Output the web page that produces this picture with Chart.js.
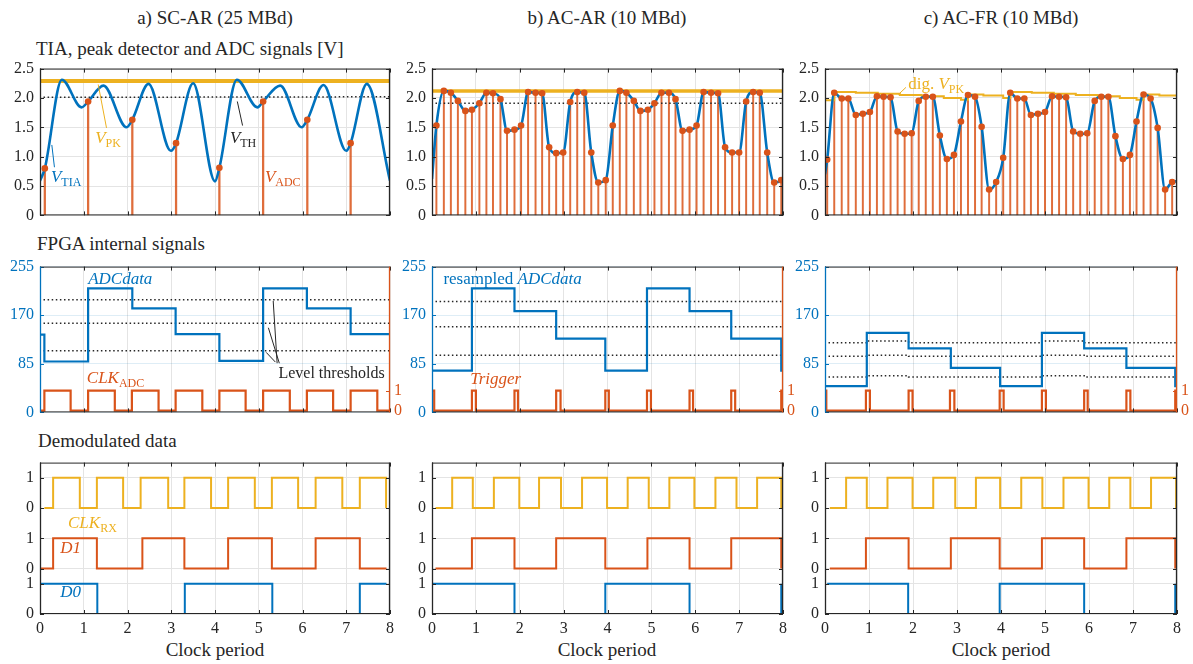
<!DOCTYPE html>
<html>
<head>
<meta charset="utf-8">
<script src="https://cdn.jsdelivr.net/npm/chart.js@4.4.1/dist/chart.umd.min.js"></script>
<style>
    body { margin: 0; width: 1193px; height: 664px; position: relative; overflow: hidden; background: #fff;
           font-family: "Liberation Serif", "Times New Roman", serif; color: #262626; }
    canvas { position: absolute; }
    .t { position: absolute; white-space: nowrap; line-height: 1; }
    .c { text-align: center; }
</style>
</head>
<body>
<div class="t c" style="left:65px;width:300px;top:8px;font-size:19px">a) SC-AR (25 MBd)</div>
<div class="t c" style="left:457px;width:300px;top:8px;font-size:19px">b) AC-AR (10 MBd)</div>
<div class="t c" style="left:851px;width:300px;top:8px;font-size:19px">c) AC-FR (10 MBd)</div>
<div class="t" style="left:36px;top:39px;font-size:19px">TIA, peak detector and ADC signals [V]</div>
<div class="t" style="left:37px;top:234px;font-size:19px">FPGA internal signals</div>
<div class="t" style="left:38px;top:431px;font-size:19px">Demodulated data</div>
<div class="t c" style="left:115px;width:200px;top:640px;font-size:19px">Clock period</div>
<div class="t c" style="left:507px;width:200px;top:640px;font-size:19px">Clock period</div>
<div class="t c" style="left:901px;width:200px;top:640px;font-size:19px">Clock period</div>

<script>
// x is always in clock periods (0..8)

// ---- row 1: TIA output, peak detector, ADC samples [V]
const tiaA = [[0, 0.59], [0.11, 0.80], [0.50, 2.31], [0.95, 1.84], [1.10, 1.94], [1.45, 2.21], [1.98, 1.50], [2.11, 1.63],
    [2.48, 2.24], [2.99, 1.10], [3.11, 1.23], [3.50, 2.25], [4.00, 0.58], [4.10, 0.81], [4.50, 2.31], [4.97, 1.84],
    [5.10, 1.94], [5.49, 2.21], [5.98, 1.50], [6.11, 1.63], [6.48, 2.22], [7.00, 1.10], [7.10, 1.23], [7.47, 2.24], [8, 0.59]];
const adcA = [[0.11, 0.80], [1.10, 1.94], [2.11, 1.63], [3.11, 1.23], [4.10, 0.81], [5.10, 1.94], [6.11, 1.63], [7.10, 1.23]];
const vpkA = [[0, 2.29], [8, 2.29]];
const vthA = [[0.08, 2.01], [8, 2.02]];

const adcB = [[0.10, 1.53], [0.27, 2.12], [0.43, 2.09], [0.59, 1.95], [0.76, 1.78], [0.91, 1.80], [1.08, 1.91], [1.24, 2.09],
    [1.39, 2.08], [1.56, 1.98], [1.71, 1.44], [1.88, 1.46], [2.03, 1.53], [2.19, 2.10], [2.36, 2.09], [2.51, 2.08],
    [2.67, 1.16], [2.83, 1.06], [2.99, 1.07], [3.15, 1.93], [3.31, 2.10], [3.47, 2.09], [3.63, 1.07], [3.79, 0.56],
    [3.96, 0.60], [4.12, 1.53], [4.28, 2.12], [4.43, 2.09], [4.60, 1.95], [4.75, 1.78], [4.92, 1.80], [5.07, 1.91],
    [5.23, 2.09], [5.40, 2.09], [5.55, 1.98], [5.71, 1.44], [5.87, 1.46], [6.03, 1.53], [6.19, 2.10], [6.36, 2.09],
    [6.52, 2.08], [6.68, 1.16], [6.84, 1.07], [7.00, 1.07], [7.16, 1.94], [7.32, 2.10], [7.47, 2.09], [7.64, 1.07],
    [7.80, 0.56], [7.96, 0.60]];
const tiaBEnds = [[0, 0.62], [8, 0.64]];
const vpkB = [[0, 2.12], [8, 2.12]];
const vthB = [[0.08, 1.91], [8, 1.91]];

const adcC = [[0.05, 0.95], [0.21, 2.09], [0.38, 1.99], [0.53, 1.99], [0.70, 1.71], [0.86, 1.73], [1.02, 1.76], [1.18, 2.03],
    [1.33, 2.02], [1.49, 2.01], [1.65, 1.43], [1.81, 1.39], [1.97, 1.40], [2.13, 1.95], [2.29, 2.02], [2.45, 2.02],
    [2.61, 1.36], [2.77, 0.96], [2.93, 1.03], [3.09, 1.60], [3.25, 2.05], [3.41, 2.02], [3.56, 1.51], [3.73, 0.44],
    [3.89, 0.57], [4.05, 0.98], [4.21, 2.09], [4.37, 1.99], [4.53, 1.99], [4.68, 1.71], [4.84, 1.73], [5.00, 1.76],
    [5.16, 2.03], [5.32, 2.02], [5.48, 2.01], [5.64, 1.43], [5.80, 1.39], [5.96, 1.40], [6.13, 1.95], [6.28, 2.02],
    [6.44, 2.02], [6.60, 1.35], [6.77, 0.96], [6.93, 1.03], [7.08, 1.60], [7.24, 2.06], [7.40, 1.99], [7.56, 1.49],
    [7.73, 0.44], [7.89, 0.57]];
const tiaCEnds = [[0, 0.70], [8, 0.58]];
const digPkC = [[0, 1.96], [0.21, 2.10], [0.70, 2.09], [1.20, 2.07], [1.70, 2.05], [2.20, 2.03], [2.70, 2.00], [3.09, 1.97],
    [3.25, 2.06], [3.60, 2.04], [4.05, 2.00], [4.21, 2.10], [4.70, 2.09], [5.20, 2.07], [5.70, 2.05], [6.20, 2.03],
    [6.70, 2.00], [7.08, 1.97], [7.24, 2.06], [7.60, 2.04], [8, 2.01]];

// ---- row 2: FPGA signals, ADC code (0..255) and clock / trigger (0/1)
const codeA = [[0, 136], [0.10, 89], [1.10, 217], [2.11, 182], [3.10, 137], [4.10, 90], [5.10, 217], [6.10, 182], [7.10, 137], [8, 137]];
const clkAdcA = [[0, 0], [0.10, 1], [0.70, 0], [1.10, 1], [1.71, 0], [2.10, 1], [2.71, 0], [3.10, 1], [3.71, 0],
    [4.10, 1], [4.70, 0], [5.10, 1], [5.71, 0], [6.10, 1], [6.70, 0], [7.10, 1], [7.71, 0], [8, 0]];
const levelsA = [197, 156, 108];

const codeB = [[0, 73], [0.91, 217], [1.88, 177], [2.83, 129], [3.95, 73], [4.90, 217], [5.87, 177], [6.82, 129], [7.96, 73], [8, 73]];
const trigB = [[0, 1], [0.05, 0], [0.91, 1], [1.00, 0], [1.88, 1], [1.96, 0], [2.83, 1], [2.93, 0], [3.95, 1], [4.03, 0],
    [4.90, 1], [4.99, 0], [5.87, 1], [5.95, 0], [6.82, 1], [6.91, 0], [7.96, 1], [8, 1]];
const levelsB = [194, 150, 100];

const codeC = [[0, 46], [0.95, 139], [1.90, 112], [2.86, 78], [3.98, 46], [4.93, 139], [5.89, 112], [6.85, 78], [7.96, 46], [8, 46]];
const trigC = [[0, 1], [0.03, 0], [0.93, 1], [1.02, 0], [1.90, 1], [1.99, 0], [2.84, 1], [2.94, 0], [3.97, 1], [4.06, 0],
    [4.93, 1], [5.02, 0], [5.89, 1], [5.97, 0], [6.85, 1], [6.94, 0], [7.96, 1], [8, 1]];
const levelHiC = [[0.08, 122], [0.95, 125], [1.90, 122], [4.93, 125], [5.89, 122], [8, 122]];
const levelMidC = [[0.08, 98], [0.95, 100], [1.90, 98], [4.93, 100], [5.89, 98], [8, 98]];
const levelLoC = [[0.08, 62], [0.95, 64], [1.90, 62], [4.93, 64], [5.89, 62], [8, 62]];

// ---- row 3: demodulated bits
const clkRxA = [[0.10, 0], [0.30, 1], [0.91, 0], [1.30, 1], [1.90, 0], [2.30, 1], [2.93, 0], [3.30, 1], [3.91, 0],
    [4.30, 1], [4.91, 0], [5.30, 1], [5.90, 0], [6.30, 1], [6.91, 0], [7.31, 1], [7.91, 0]];
const d1A = [[0, 0], [0.30, 1], [1.30, 0], [2.34, 1], [3.30, 0], [4.30, 1], [5.30, 0], [6.30, 1], [7.31, 0], [7.92, 0]];
const d0A = [[0, 1], [1.31, 0], [3.31, 1], [5.31, 0], [7.31, 1], [7.92, 1]];

const clkRxB = [[0.08, 0], [0.46, 1], [0.93, 0], [1.41, 1], [1.99, 0], [2.44, 1], [2.94, 0], [3.42, 1], [3.99, 0],
    [4.46, 1], [4.94, 0], [5.41, 1], [5.98, 0], [6.46, 1], [6.94, 0], [7.41, 1], [7.96, 0]];
const d1B = [[0.08, 0], [0.91, 1], [1.88, 0], [2.83, 1], [3.95, 0], [4.91, 1], [5.87, 0], [6.82, 1], [7.96, 0]];
const d0B = [[0.02, 1], [1.88, 0], [3.95, 1], [5.87, 0], [7.96, 1]];

const clkRxC = [[0.11, 0], [0.48, 1], [0.95, 0], [1.42, 1], [1.99, 0], [2.46, 1], [2.96, 0], [3.43, 1], [3.98, 0],
    [4.46, 1], [4.94, 0], [5.42, 1], [5.99, 0], [6.46, 1], [6.94, 0], [7.41, 1], [7.98, 0]];
const d1C = [[0.11, 0], [0.93, 1], [1.90, 0], [2.86, 1], [3.97, 0], [4.93, 1], [5.89, 0], [6.85, 1], [7.96, 0]];
const d0C = [[0.05, 1], [1.89, 0], [3.97, 1], [5.89, 0], [7.96, 1]];

const demodTicks = [0, 1, 1.5, 2.5, 3.5, 4.5];
const demodTickText = ["0", "1", "0", "1", "0", "1"];

// ---------------------------------------------------------------------------
const BLUE = "#0072BD", ORANGE = "#D95319", YELLOW = "#EDB120", INK = "#262626", GRID = "#e4e4e4";
const FONT = '"Liberation Serif", "Times New Roman", serif';
const D1_BASE = 1.5, CLK_BASE = 3.5; // stacked traces in the demod panel

const pts = (a, dy = 0) => a.map(([x, y]) => ({ x, y: y + dy }));

function trace(data, color, width, extra = {}) {
    return { data, borderColor: color, backgroundColor: color, borderWidth: width, pointRadius: 0, fill: false, ...extra };
}

// box + inward ticks, MATLAB style
const framePlugin = {
    id: "frame",
    afterDraw(chart, args, opts) {
        const { ctx, chartArea: a, scales } = chart;
        const seg = (x1, y1, x2, y2) => { ctx.beginPath(); ctx.moveTo(x1, y1); ctx.lineTo(x2, y2); ctx.stroke(); };
        ctx.save();
        ctx.lineWidth = 1;
        ctx.strokeStyle = INK;
        scales.x.ticks.forEach(t => {
            const px = Math.round(scales.x.getPixelForValue(t.value)) + 0.5;
            seg(px, a.top, px, a.top + 4);
            seg(px, a.bottom, px, a.bottom - 4);
        });
        ctx.strokeStyle = opts.left || INK;
        scales.y.ticks.forEach(t => {
            const py = Math.round(scales.y.getPixelForValue(t.value)) + 0.5;
            seg(a.left, py, a.left + 4, py);
            if (!scales.y2) seg(a.right, py, a.right - 4, py);
        });
        if (scales.y2) {
            ctx.strokeStyle = opts.right || INK;
            scales.y2.ticks.forEach(t => {
                const py = Math.round(scales.y2.getPixelForValue(t.value)) + 0.5;
                seg(a.right, py, a.right - 4, py);
            });
        }
        ctx.strokeStyle = INK;
        seg(a.left, a.top + 0.5, a.right, a.top + 0.5);
        seg(a.left, a.bottom - 0.5, a.right, a.bottom - 0.5);
        ctx.lineWidth = 1.3;
        ctx.strokeStyle = opts.left || INK;
        seg(a.left + 0.5, a.top, a.left + 0.5, a.bottom);
        ctx.strokeStyle = opts.right || INK;
        seg(a.right - 0.5, a.top, a.right - 0.5, a.bottom);
        ctx.restore();
    },
};

// text labels and leader lines placed in data coordinates
const notesPlugin = {
    id: "notes",
    afterDatasetsDraw(chart, args, opts) {
        const { ctx, scales } = chart;
        ctx.save();
        (opts.leaders || []).forEach(l => {
            ctx.strokeStyle = l.color;
            ctx.lineWidth = 1;
            ctx.beginPath();
            ctx.moveTo(scales.x.getPixelForValue(l.from[0]), scales.y.getPixelForValue(l.from[1]));
            ctx.lineTo(scales.x.getPixelForValue(l.to[0]), scales.y.getPixelForValue(l.to[1]));
            ctx.stroke();
        });
        ctx.textAlign = "left";
        ctx.textBaseline = "alphabetic";
        (opts.labels || []).forEach(lb => {
            let px = scales.x.getPixelForValue(lb.at[0]);
            const py = scales.y.getPixelForValue(lb.at[1]);
            ctx.fillStyle = lb.color;
            lb.parts.forEach(p => {
                const size = p.sub ? 12 : (lb.size || 17);
                ctx.font = `${p.it ? "italic " : ""}${size}px ${FONT}`;
                ctx.fillText(p.t, px, py + (p.sub ? 4 : 0));
                px += ctx.measureText(p.t).width;
            });
        });
        ctx.restore();
    },
};

Chart.register(framePlugin, notesPlugin);

function panel(box, cfg) {
    const [L, T, W, H] = box;
    const below = cfg.xLabels ? 30 : 10;
    const cv = document.createElement("canvas");
    cv.width = W + 65;
    cv.height = H + 10 + below;
    cv.style.left = L - 40 + "px";
    cv.style.top = T - 10 + "px";
    document.body.appendChild(cv);

    const tickFont = { family: FONT, size: 16 };
    const scales = {
        x: {
            type: "linear", min: 0, max: 8, offset: false,
            grid: { color: GRID, drawTicks: false, offset: false },
            border: { display: false },
            ticks: { display: !!cfg.xLabels, stepSize: 1, padding: 5, color: INK, font: tickFont, maxRotation: 0 },
            afterFit: s => { s.height = cfg.xLabels ? 30 : 0; },
        },
        y: {
            position: "left", min: cfg.y.min, max: cfg.y.max,
            grid: { color: cfg.y.grid || GRID, drawTicks: false },
            border: { display: false },
            ticks: {
                color: cfg.y.color || INK, font: tickFont, padding: 6, stepSize: cfg.y.step,
                callback: cfg.y.label || (v => String(v)),
            },
            afterFit: s => { s.width = 40; },
        },
    };
    if (cfg.y.at) scales.y.afterBuildTicks = s => { s.ticks = cfg.y.at.map(value => ({ value })); };
    if (cfg.y2) {
        scales.y2 = {
            position: "right", min: cfg.y2.min, max: cfg.y2.max,
            grid: { display: false, drawTicks: false },
            border: { display: false },
            ticks: { color: ORANGE, font: tickFont, padding: 4, callback: v => String(v) },
            afterBuildTicks: s => { s.ticks = cfg.y2.at.map(value => ({ value })); },
            afterFit: s => { s.width = 25; },
        };
    }

    new Chart(cv, {
        type: "line",
        data: { datasets: cfg.datasets },
        options: {
            responsive: false,
            animation: false,
            devicePixelRatio: 1,
            events: [],
            layout: { padding: { top: 10, left: 0, right: cfg.y2 ? 0 : 25, bottom: cfg.xLabels ? 0 : 10 } },
            scales,
            plugins: {
                legend: { display: false },
                tooltip: { enabled: false },
                frame: { left: cfg.y2 ? BLUE : INK, right: cfg.y2 ? ORANGE : INK },
                notes: cfg.notes || {},
            },
        },
    });
}

// ---- panel boxes [left, top, width, height] of the plot areas
const COLS = [[40, 350], [432, 351], [825, 352]];
const ROWS = [[63, 158], [261, 157], [457, 157]];
const boxOf = (c, r) => [COLS[c][0], ROWS[r][0], COLS[c][1], ROWS[r][1]];

const voltAxis = { min: 0, max: 2.5, step: 0.5, label: v => (v === 0 ? "0" : v.toFixed(1)) };
const codeAxis = { min: 0, max: 255, step: 85, color: BLUE, grid: "rgba(0,114,189,0.13)" };
const bitAxis = { min: -0.09, max: 7.24, at: [0, 1] };
const demodAxis = { min: 0, max: 5, at: demodTicks, label: (v, i) => demodTickText[i] };

const stems = (s, w) => ({
    type: "bar", data: pts(s), backgroundColor: "rgba(217,83,25,0.85)", barThickness: w, grouped: false, order: 5,
});
const dots = s => ({
    data: pts(s), showLine: false, pointRadius: 3.3, pointBackgroundColor: ORANGE, pointBorderWidth: 0, order: 0,
});
const dotted = (d, w = 1.5) => trace(d, INK, w, { borderDash: [1.5, 2.6], order: 4 });

// ---- row 1
panel(boxOf(0, 0), {
    y: voltAxis,
    datasets: [
        dots(adcA),
        trace(pts(tiaA), BLUE, 2.6, { cubicInterpolationMode: "monotone", order: 1 }),
        trace(pts(vpkA), YELLOW, 4, { order: 3 }),
        dotted(pts(vthA)),
        stems(adcA, 1.6),
    ],
    notes: {
        leaders: [
            { from: [1.52, 1.49], to: [1.33, 2.23], color: YELLOW },
            { from: [4.63, 1.53], to: [4.51, 1.94], color: INK },
            { from: [0.33, 0.82], to: [0.27, 1.20], color: BLUE },
        ],
        labels: [
            { at: [1.26, 1.23], color: YELLOW, parts: [{ t: "V", it: true }, { t: "PK", sub: true }] },
            { at: [4.34, 1.23], color: INK, parts: [{ t: "V", it: true }, { t: "TH", sub: true }] },
            { at: [0.25, 0.57], color: BLUE, parts: [{ t: "V", it: true }, { t: "TIA", sub: true }] },
            { at: [5.14, 0.57], color: ORANGE, parts: [{ t: "V", it: true }, { t: "ADC", sub: true }] },
        ],
    },
});

panel(boxOf(1, 0), {
    y: voltAxis,
    datasets: [
        dots(adcB),
        trace(pts([tiaBEnds[0], ...adcB, tiaBEnds[1]]), BLUE, 2.6, { cubicInterpolationMode: "monotone", order: 1 }),
        trace(pts(vpkB), YELLOW, 3.5, { order: 3 }),
        dotted(pts(vthB)),
        stems(adcB, 1.3),
    ],
});

panel(boxOf(2, 0), {
    y: voltAxis,
    datasets: [
        dots(adcC),
        trace(pts([tiaCEnds[0], ...adcC, tiaCEnds[1]]), BLUE, 2.6, { cubicInterpolationMode: "monotone", order: 1 }),
        trace(pts(digPkC), YELLOW, 2, { stepped: true, order: 2 }),
        stems(adcC, 1.3),
    ],
    notes: {
        leaders: [{ from: [1.67, 2.06], to: [1.84, 2.18], color: YELLOW }],
        labels: [{ at: [1.89, 2.16], color: YELLOW, parts: [{ t: "dig. " }, { t: "V", it: true }, { t: "PK", sub: true }] }],
    },
});

// ---- row 2
const levelLines = (levels, from) => levels.map(v => dotted(pts([[from, v], [8, v]])));

panel(boxOf(0, 1), {
    y: codeAxis,
    y2: bitAxis,
    datasets: [
        trace(pts(codeA), BLUE, 2.2, { stepped: true, order: 1 }),
        trace(pts(clkAdcA), ORANGE, 2.2, { stepped: true, yAxisID: "y2", order: 2 }),
        ...levelLines(levelsA, 0.08),
    ],
    notes: {
        leaders: [
            { from: [5.42, 86], to: [5.33, 195], color: INK },
            { from: [5.47, 86], to: [5.22, 148], color: INK },
            { from: [5.38, 88], to: [5.17, 105], color: INK },
        ],
        labels: [
            { at: [1.10, 224], color: BLUE, parts: [{ t: "ADCdata", it: true }] },
            { at: [1.07, 52], color: ORANGE, parts: [{ t: "CLK", it: true }, { t: "ADC", sub: true }] },
            { at: [5.45, 60], color: INK, size: 16, parts: [{ t: "Level thresholds" }] },
        ],
    },
});

panel(boxOf(1, 1), {
    y: codeAxis,
    y2: bitAxis,
    datasets: [
        trace(pts(codeB), BLUE, 2.2, { stepped: true, order: 1 }),
        trace(pts(trigB), ORANGE, 2.2, { stepped: true, yAxisID: "y2", order: 2 }),
        ...levelLines(levelsB, 0.08),
    ],
    notes: {
        labels: [
            { at: [0.26, 225], color: BLUE, parts: [{ t: "resampled " }, { t: "ADCdata", it: true }] },
            { at: [0.87, 49], color: ORANGE, parts: [{ t: "Trigger", it: true }] },
        ],
    },
});

panel(boxOf(2, 1), {
    y: codeAxis,
    y2: bitAxis,
    datasets: [
        trace(pts(codeC), BLUE, 2.2, { stepped: true, order: 1 }),
        trace(pts(trigC), ORANGE, 2.2, { stepped: true, yAxisID: "y2", order: 2 }),
        dotted(pts(levelHiC)), dotted(pts(levelMidC)), dotted(pts(levelLoC)),
    ].map(d => (d.borderDash ? { ...d, stepped: true } : d)),
});

// ---- row 3
function demodSets(clk, d1, d0) {
    return [
        trace(pts(clk, CLK_BASE), YELLOW, 2, { stepped: true }),
        trace(pts(d1, D1_BASE), ORANGE, 2, { stepped: true }),
        trace(pts(d0), BLUE, 2, { stepped: true }),
    ];
}

panel(boxOf(0, 2), {
    y: demodAxis, xLabels: true,
    datasets: demodSets(clkRxA, d1A, d0A),
    notes: {
        labels: [
            { at: [0.64, 2.85], color: YELLOW, parts: [{ t: "CLK", it: true }, { t: "RX", sub: true }] },
            { at: [0.46, 2.0], color: ORANGE, parts: [{ t: "D1", it: true }] },
            { at: [0.46, 0.55], color: BLUE, parts: [{ t: "D0", it: true }] },
        ],
    },
});
panel(boxOf(1, 2), { y: demodAxis, xLabels: true, datasets: demodSets(clkRxB, d1B, d0B) });
panel(boxOf(2, 2), { y: demodAxis, xLabels: true, datasets: demodSets(clkRxC, d1C, d0C) });
</script>
</body>
</html>
